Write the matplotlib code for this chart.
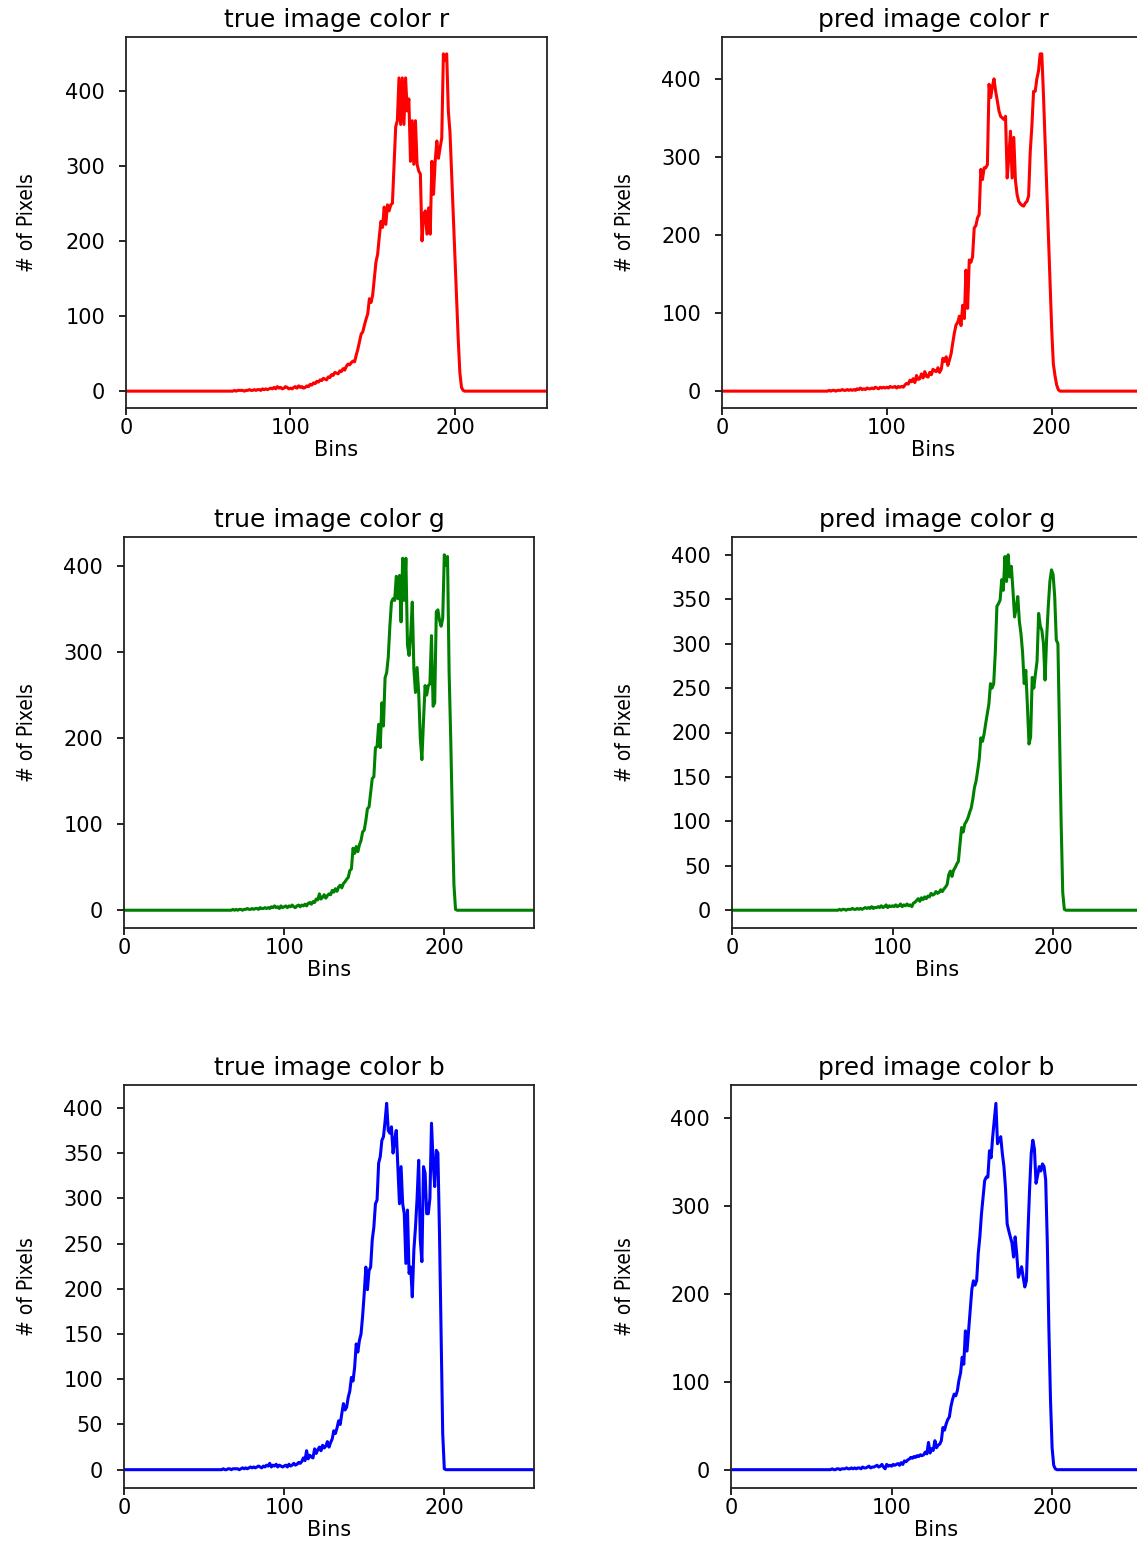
import numpy as np
import matplotlib
matplotlib.use("Agg")
import matplotlib.pyplot as plt

# -----------------------------
# 1. Histogram values
# -----------------------------
# every list starts at bin 60, all bins outside the list are 0
first_bin = 60
n_bins = 256

true_r = [
    0, 0, 0, 0, 0, 0, 1, 0, 1, 1,
    1, 1, 0, 1, 1, 2, 1, 1, 2, 1,
    2, 2, 1, 3, 2, 3, 2, 3, 4, 3,
    5, 3, 6, 4, 5, 3, 4, 6, 5, 3,
    4, 3, 5, 6, 4, 7, 5, 6, 4, 5,
    7, 6, 9, 8, 11, 10, 13, 12, 15, 14,
    17, 16, 15, 19, 18, 22, 21, 25, 24, 23,
    27, 26, 30, 28, 33, 36, 35, 38, 40, 39,
    48, 56, 66, 76, 79, 88, 96, 103, 123, 118,
    128, 150, 172, 182, 205, 226, 218, 245, 222, 248,
    240, 248, 250, 300, 352, 360, 417, 355, 417, 355,
    417, 373, 389, 306, 360, 302, 360, 302, 293, 289,
    200, 235, 240, 209, 244, 209, 306, 262, 306, 333,
    310, 324, 337, 449, 440, 449, 373, 345, 290, 235,
    180, 125, 70, 25, 5, 1, 0, 0, 0, 0,
]

pred_r = [
    0, 0, 0, 0, 0, 1, 0, 1, 1, 0,
    1, 1, 1, 2, 1, 1, 2, 1, 2, 1,
    2, 1, 3, 2, 4, 2, 3, 2, 4, 3,
    3, 4, 3, 5, 4, 3, 5, 4, 5, 4,
    5, 4, 6, 5, 5, 6, 4, 6, 5, 6,
    5, 8, 10, 9, 14, 12, 16, 11, 20, 15,
    16, 22, 17, 25, 19, 18, 24, 21, 28, 26,
    25, 30, 24, 28, 42, 38, 44, 33, 40, 48,
    62, 75, 85, 88, 96, 84, 110, 93, 155, 106,
    168, 165, 172, 209, 212, 222, 226, 284, 271, 286,
    286, 290, 393, 376, 390, 400, 384, 372, 359, 352,
    350, 348, 352, 273, 300, 333, 273, 325, 270, 252,
    243, 240, 238, 237, 241, 243, 250, 307, 340, 384,
    384, 400, 410, 432, 432, 380, 320, 260, 200, 140,
    80, 35, 20, 8, 2, 0, 0, 0, 0, 0,
]

true_g = [
    0, 0, 0, 0, 0, 0, 0, 0, 1, 0,
    1, 0, 1, 1, 0, 1, 1, 2, 1, 1,
    2, 1, 2, 2, 1, 3, 2, 2, 3, 2,
    3, 2, 4, 3, 5, 3, 4, 2, 5, 3,
    4, 5, 3, 5, 4, 6, 4, 3, 5, 6,
    4, 6, 5, 7, 5, 8, 9, 7, 10, 9,
    13, 12, 19, 13, 15, 18, 14, 17, 19, 18,
    23, 21, 25, 22, 27, 29, 26, 31, 33, 36,
    38, 46, 48, 72, 66, 74, 68, 76, 81, 91,
    93, 104, 118, 120, 137, 153, 155, 189, 190, 216,
    189, 241, 214, 270, 276, 294, 330, 358, 362, 360,
    388, 362, 389, 335, 409, 360, 409, 308, 296, 320,
    358, 280, 253, 282, 253, 200, 175, 220, 261, 250,
    261, 263, 319, 237, 241, 347, 349, 337, 330, 339,
    413, 401, 411, 276, 200, 110, 30, 1, 0, 0,
]

pred_g = [
    0, 0, 0, 0, 0, 0, 0, 1, 0, 1,
    1, 0, 1, 1, 1, 2, 1, 1, 2, 1,
    2, 1, 2, 3, 2, 3, 2, 4, 2, 3,
    3, 4, 3, 5, 3, 4, 6, 3, 5, 4,
    5, 4, 6, 4, 5, 7, 4, 6, 5, 7,
    5, 6, 4, 8, 9, 11, 13, 10, 14, 12,
    15, 13, 16, 15, 19, 17, 18, 21, 19, 20,
    23, 21, 24, 26, 29, 40, 44, 38, 45, 48,
    52, 55, 74, 93, 88, 97, 100, 104, 110, 115,
    125, 138, 145, 157, 170, 194, 190, 198, 210, 221,
    232, 255, 250, 255, 290, 342, 345, 349, 372, 360,
    398, 370, 400, 375, 387, 360, 330, 340, 353, 325,
    311, 290, 255, 270, 230, 187, 195, 262, 250, 266,
    280, 334, 320, 315, 300, 259, 307, 342, 370, 383,
    378, 353, 304, 300, 200, 100, 20, 1, 0, 0,
]

true_b = [
    0, 0, 1, 0, 0, 1, 1, 0, 1, 1,
    1, 1, 0, 1, 2, 1, 2, 1, 2, 3,
    2, 3, 2, 3, 4, 3, 2, 4, 3, 5,
    4, 7, 3, 5, 4, 6, 3, 5, 4, 3,
    4, 5, 3, 6, 4, 5, 7, 5, 6, 8,
    7, 9, 13, 10, 21, 12, 16, 14, 13, 23,
    18, 22, 25, 21, 27, 24, 26, 31, 25, 30,
    34, 43, 40, 46, 54, 50, 62, 73, 66, 69,
    80, 87, 102, 98, 113, 139, 130, 143, 150, 170,
    195, 224, 199, 220, 224, 254, 268, 294, 298, 339,
    346, 364, 368, 385, 405, 375, 372, 379, 350, 364,
    375, 335, 294, 335, 294, 283, 228, 287, 217, 224,
    191, 243, 268, 300, 342, 254, 230, 335, 328, 283,
    283, 300, 383, 340, 313, 353, 350, 260, 150, 40,
    1, 0, 0, 0, 0, 0, 0, 0, 0, 0,
]

pred_b = [
    0, 0, 0, 1, 0, 0, 1, 1, 0, 1,
    1, 1, 2, 1, 1, 2, 1, 2, 1, 2,
    2, 1, 3, 2, 2, 3, 4, 2, 3, 3,
    4, 5, 3, 4, 6, 3, 1, 6, 4, 5,
    4, 6, 5, 6, 7, 5, 8, 6, 10, 9,
    11, 12, 14, 13, 15, 14, 16, 15, 17, 16,
    17, 20, 18, 31, 19, 24, 22, 33, 25, 28,
    29, 33, 48, 45, 52, 57, 60, 72, 80, 86,
    84, 90, 102, 110, 128, 120, 158, 135, 158, 180,
    205, 215, 210, 215, 246, 265, 291, 310, 329, 333,
    333, 363, 355, 379, 398, 417, 371, 375, 379, 360,
    345, 320, 280, 272, 265, 258, 242, 265, 245, 219,
    225, 231, 219, 208, 215, 272, 320, 360, 375, 365,
    326, 335, 345, 340, 348, 345, 330, 260, 160, 80,
    25, 5, 1, 0, 0, 0, 0, 0, 0, 0,
]

titles = [
    "true image color r", "pred image color r",
    "true image color g", "pred image color g",
    "true image color b", "pred image color b",
]
series = [true_r, pred_r, true_g, pred_g, true_b, pred_b]
colors = ["r", "r", "g", "g", "b", "b"]
ytick_steps = [100, 100, 100, 50, 50, 100]


def full_hist(vals):
    h = np.zeros(n_bins)
    h[first_bin:first_bin + len(vals)] = vals
    return h


# -----------------------------
# 2. Layout (pixels of the 1137 x 1547 picture)
# -----------------------------
W, H = 1137, 1547
# left, top, right, bottom of each axes box
boxes = [
    (126, 37, 547, 408), (722, 37, 1144, 408),
    (124, 537, 534, 928), (732, 537, 1143, 928),
    (124, 1085, 534, 1488), (731, 1085, 1142, 1488),
]
# x pixel of the right edge of each y label
ylabel_x = [37, 635, 37, 635, 37, 635]

plt.rcParams["font.family"] = ["DejaVu Sans"]
fig = plt.figure(figsize=(W / 100, H / 100), dpi=100)

for i in range(6):
    l, t, r, b = boxes[i]
    ax = fig.add_axes([l / W, 1 - b / H, (r - l) / W, (b - t) / H])
    ax.plot(full_hist(series[i]), color=colors[i], linewidth=2.2)
    ax.set_xlim([0, 256])
    ax.set_xticks([0, 100, 200])
    ymax = max(series[i])
    ax.set_yticks(np.arange(0, ymax + 1, ytick_steps[i]))

    ax.set_title(titles[i], fontsize=18, pad=7)
    ax.set_xlabel("Bins", fontsize=15, labelpad=2)
    ax.set_ylabel("# of Pixels", fontsize=15, fontstretch="condensed")
    ax.yaxis.set_label_coords((ylabel_x[i] - l) / (r - l), 0.5)

    ax.tick_params(labelsize=15, length=5, width=1.2)
    ax.tick_params(axis="x", pad=2)
    ax.tick_params(axis="y", pad=10)
    for sp in ax.spines.values():
        sp.set_linewidth(1.3)
        sp.set_color("#222222")

fig.savefig("out.png", dpi=100)
